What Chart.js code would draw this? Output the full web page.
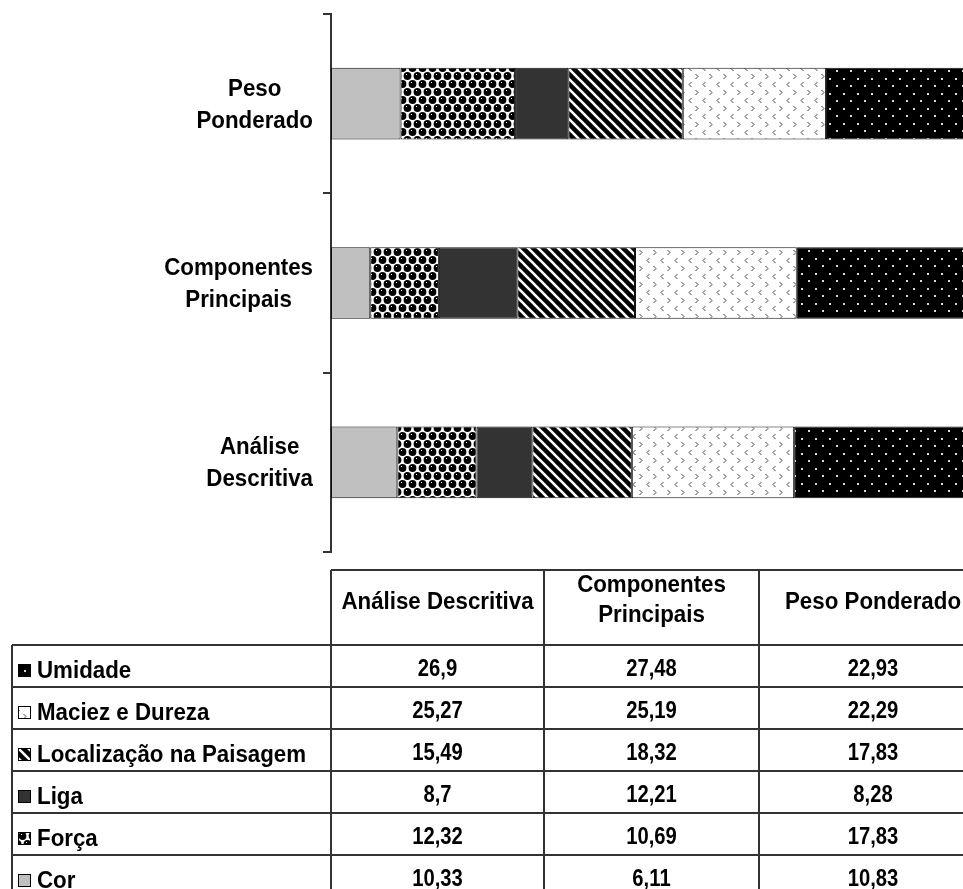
<!DOCTYPE html>
<html>
<head>
<meta charset="utf-8">
<script src="https://cdn.jsdelivr.net/npm/chart.js@4.4.1/dist/chart.umd.min.js"></script>
<style>
  html, body { margin: 0; padding: 0; background: #fff; overflow: hidden; }
  canvas { display: block; }
</style>
</head>
<body>
<canvas id="c" width="963" height="889"></canvas>
<script>
// Categories (bottom to top on the chart, left to right in the table)
const categories = ['Análise Descritiva', 'Componentes Principais', 'Peso Ponderado'];
const categoryLines = [['Análise', 'Descritiva'], ['Componentes', 'Principais'], ['Peso', 'Ponderado']];
const headerLines = [['Análise Descritiva'], ['Componentes', 'Principais'], ['Peso Ponderado']];

// Series, in stacking order from left to right
const seriesNames = ['Cor', 'Força', 'Liga', 'Localização na Paisagem', 'Maciez e Dureza', 'Umidade'];
const cor = [10.33, 6.11, 10.83];
const forca = [12.32, 10.69, 17.83];
const liga = [8.7, 12.21, 8.28];
const localizacao = [15.49, 18.32, 17.83];
const maciez = [25.27, 25.19, 22.29];
const umidade = [26.9, 27.48, 22.93];
const seriesValues = [cor, forca, liga, localizacao, maciez, umidade];

const FONT = '"Liberation Sans", Arial, "DejaVu Sans", sans-serif';

// ---- fill patterns -------------------------------------------------------
function tile(w, h, paint) {
  const t = document.createElement('canvas');
  t.width = w; t.height = h;
  const g = t.getContext('2d');
  paint(g, w, h);
  return document.getElementById('c').getContext('2d').createPattern(t, 'repeat');
}

const fillCor = '#c0c0c0';
const fillLiga = '#333333';

const fillForca = tile(10, 16, (g, w, h) => {
  g.fillStyle = '#fff'; g.fillRect(0, 0, w, h);
  g.fillStyle = '#000';
  const dots = [[2.5, 4], [7.5, 12], [12.5, 4], [-2.5, 12], [2.5, 20], [7.5, -4], [12.5, 20], [-2.5, -4]];
  dots.forEach(([x, y]) => { g.beginPath(); g.arc(x, y, 3.9, 0, Math.PI * 2); g.fill(); });
  g.fillStyle = '#fff';
  g.fillRect(1, 2, 1, 1); g.fillRect(6, 10, 1, 1);
});

const fillLocalizacao = tile(10, 10, (g, w, h) => {
  g.fillStyle = '#000'; g.fillRect(0, 0, w, h);
  g.strokeStyle = '#fff'; g.lineWidth = 2.6;
  for (let o = -10; o <= 10; o += 10) {
    g.beginPath(); g.moveTo(o - 2, -2); g.lineTo(o + 12, 12); g.stroke();
  }
});

const fillMaciez = tile(14, 16, (g, w, h) => {
  g.fillStyle = '#fff'; g.fillRect(0, 0, w, h);
  g.strokeStyle = '#444'; g.lineWidth = 1;
  g.beginPath(); g.moveTo(5.5, 2); g.lineTo(3, 4.5); g.lineTo(5.5, 7); g.stroke();
  g.beginPath(); g.moveTo(9.5, 10); g.lineTo(12, 12.5); g.lineTo(9.5, 15); g.stroke();
});

const fillUmidade = tile(14, 15, (g, w, h) => {
  g.fillStyle = '#000'; g.fillRect(0, 0, w, h);
  g.fillStyle = '#d8d8d8';
  g.fillRect(3, 3, 2, 2);
  g.fillRect(10, 10, 2, 2);
});

const seriesFills = [fillCor, fillForca, fillLiga, fillLocalizacao, fillMaciez, fillUmidade];

// ---- text helper ---------------------------------------------------------
function drawText(ctx, s, x, y, size, sx, align) {
  ctx.save();
  ctx.font = 'bold ' + size + 'px ' + FONT;
  const w = ctx.measureText(s).width * sx;
  const x0 = align === 'center' ? x - w / 2 : (align === 'right' ? x - w : x);
  ctx.translate(x0, y);
  ctx.scale(sx, 1);
  ctx.textAlign = 'left';
  ctx.textBaseline = 'alphabetic';
  ctx.fillStyle = '#000';
  ctx.fillText(s, 0, 0);
  ctx.restore();
  return w;
}
function textWidth(ctx, s, size, sx) {
  ctx.save();
  ctx.font = 'bold ' + size + 'px ' + FONT;
  const w = ctx.measureText(s).width * sx;
  ctx.restore();
  return w;
}

const fmt = v => String(v).replace('.', ',');

const WORD_SIZE = 23, WORD_SX = 0.97;
const NUM_SIZE = 23, NUM_SX = 0.88;

// ---- category labels beside the bars -------------------------------------
const categoryLabels = {
  id: 'categoryLabels',
  afterDraw(chart) {
    const ctx = chart.ctx;
    const y = chart.scales.y;
    const right = 313;
    categories.forEach((c, i) => {
      const cy = y.getPixelForValue(i);
      const lines = categoryLines[i];
      const bw = Math.max(...lines.map(l => textWidth(ctx, l, WORD_SIZE, WORD_SX)));
      const cx = right - bw / 2;
      drawText(ctx, lines[0], cx, cy - 8, WORD_SIZE, WORD_SX, 'center');
      drawText(ctx, lines[1], cx, cy + 24, WORD_SIZE, WORD_SX, 'center');
    });
  }
};

// ---- data table under the chart ------------------------------------------
const dataTable = {
  id: 'dataTable',
  afterDraw(chart) {
    const ctx = chart.ctx;
    const W = chart.width, H = chart.height;
    const top = 570, headBottom = 645, rowH = 42, labelLeft = 12;
    const colX = [331, 544, 759];
    const colCenter = [437.5, 651.5, 873];

    ctx.save();
    ctx.strokeStyle = '#333';
    ctx.lineWidth = 2;
    ctx.beginPath();
    ctx.moveTo(colX[0], top); ctx.lineTo(W, top);
    for (let k = 0; k < 6; k++) {
      const yy = headBottom + k * rowH;
      ctx.moveTo(labelLeft, yy); ctx.lineTo(W, yy);
    }
    colX.forEach(x => { ctx.moveTo(x, top); ctx.lineTo(x, H); });
    ctx.moveTo(labelLeft, headBottom); ctx.lineTo(labelLeft, H);
    ctx.stroke();
    ctx.restore();

    // header
    headerLines.forEach((lines, j) => {
      if (lines.length === 1) {
        drawText(ctx, lines[0], colCenter[j], 609, WORD_SIZE, WORD_SX, 'center');
      } else {
        drawText(ctx, lines[0], colCenter[j], 592, WORD_SIZE, WORD_SX, 'center');
        drawText(ctx, lines[1], colCenter[j], 622, WORD_SIZE, WORD_SX, 'center');
      }
    });

    // rows: last series first
    for (let r = 0; r < 6; r++) {
      const s = 5 - r;
      const rowTop = headBottom + r * rowH;
      ctx.save();
      ctx.fillStyle = seriesFills[s];
      ctx.fillRect(18, rowTop + 19, 13, 13);
      ctx.strokeStyle = '#000'; ctx.lineWidth = 1;
      ctx.strokeRect(18.5, rowTop + 19.5, 12, 12);
      ctx.restore();
      drawText(ctx, seriesNames[s], 37, rowTop + 33, WORD_SIZE, WORD_SX, 'left');
      seriesValues[s].forEach((v, j) => {
        drawText(ctx, fmt(v), colCenter[j], rowTop + 31, NUM_SIZE, NUM_SX, 'center');
      });
    }
  }
};

new Chart(document.getElementById('c'), {
  type: 'bar',
  data: {
    labels: categories,
    datasets: seriesNames.map((name, i) => ({
      label: name,
      data: seriesValues[i],
      backgroundColor: seriesFills[i],
      borderColor: '#111',
      borderWidth: 1,
      borderSkipped: false,
      barPercentage: 0.4,
      categoryPercentage: 1.0
    }))
  },
  options: {
    indexAxis: 'y',
    responsive: false,
    devicePixelRatio: 1,
    animation: false,
    layout: { padding: { left: 323, top: 14, right: 0, bottom: 337 } },
    plugins: { legend: { display: false }, tooltip: { enabled: false } },
    scales: {
      x: { stacked: true, min: 0, max: 98.4, display: false },
      y: {
        stacked: true,
        reverse: true,
        ticks: { display: false },
        grid: {
          display: true, offset: true, drawOnChartArea: false,
          drawTicks: true, tickLength: 8, color: '#333', lineWidth: 2
        },
        border: { display: true, color: '#333', width: 2 }
      }
    }
  },
  plugins: [categoryLabels, dataTable]
});
</script>
</body>
</html>
